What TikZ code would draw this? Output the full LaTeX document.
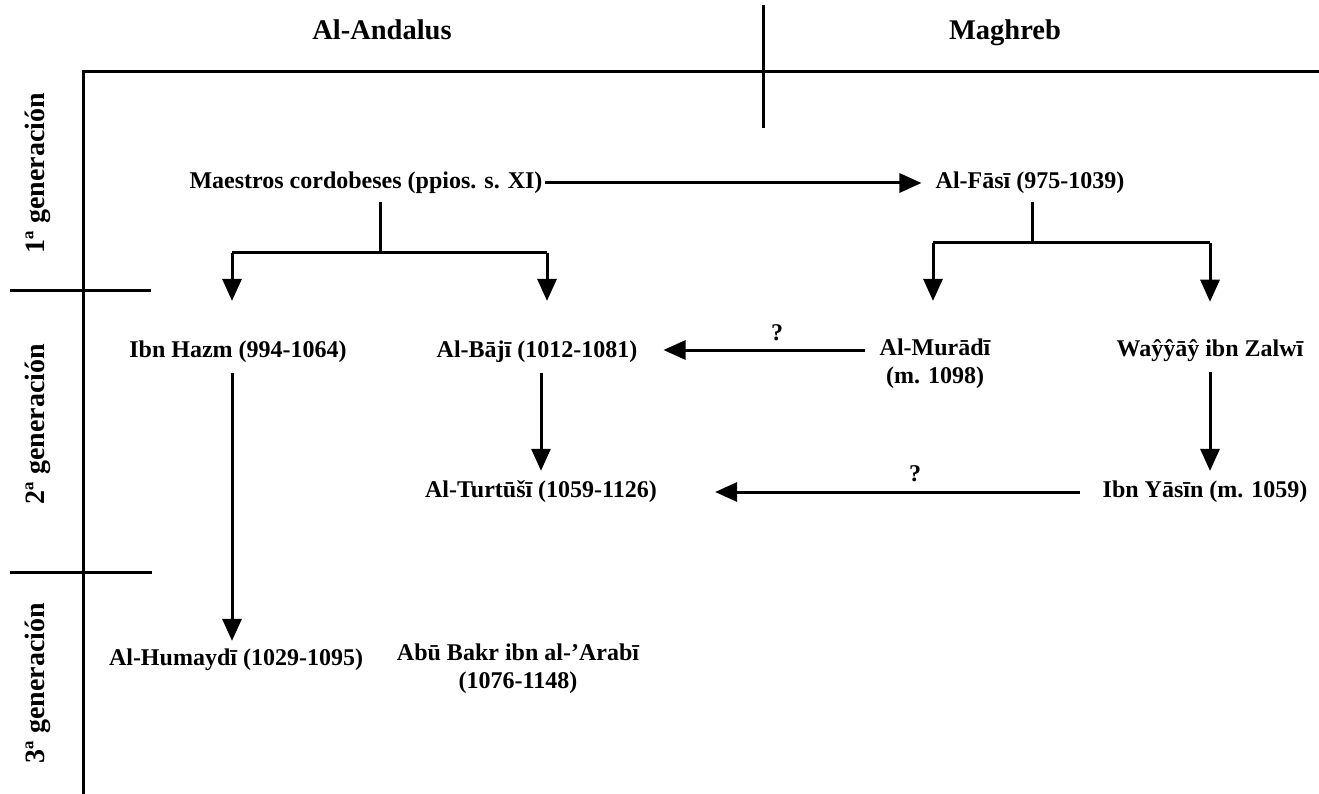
\documentclass[tikz,border=0pt]{standalone}
\usepackage{fontspec}
\setmainfont{Liberation Serif}
\usetikzlibrary{arrows.meta}
\begin{document}
\begin{tikzpicture}[x=1pt,y=-1pt,
  lbl/.style={font=\fontsize{24}{28}\selectfont\bfseries, inner sep=0pt, align=center},
  hdr/.style={font=\fontsize{28.5}{32}\selectfont\bfseries, anchor=base},
  gen/.style={font=\fontsize{28}{32}\selectfont\bfseries, rotate=90},
  ln/.style={line width=3pt},
  arr/.style={line width=3pt, -{Triangle[length=22pt,width=19pt]}},
  qm/.style={font=\fontsize{24}{28}\selectfont\bfseries}]
\useasboundingbox (0,0) rectangle (1319,794);
% frame
\coordinate (tv1) at (763,5);
\coordinate (tv2) at (763,128);
\coordinate (hl1) at (83,72);
\coordinate (hl2) at (1319,72);
\coordinate (vb) at (83,794);
\draw[ln] (tv1) -- (tv2);
\draw[ln] (vb) -- (hl1) -- (hl2);
\coordinate (t1a) at (10,290); \coordinate (t1b) at (151,290);
\coordinate (t2a) at (10,572); \coordinate (t2b) at (152,572);
\draw[ln] (t1a) -- (t1b);
\draw[ln] (t2a) -- (t2b);
\node[hdr] (andalus) at (382,40) {Al-Andalus};
\node[hdr] (maghreb) at (1005,40) {Maghreb};
\node[gen] (g1) at (38,173) {1ª generación};
\node[gen] (g2) at (38,424) {2ª generación};
\node[gen] (g3) at (38,683) {3ª generación};
% nodes
\node[lbl] (maestros) at (366,183) {Maestros cordobeses (ppios. s. XI)};
\node[lbl] (fasi) at (1030,183) {Al-Fāsī (975-1039)};
\node[lbl] (hazm) at (238,352) {Ibn Hazm (994-1064)};
\node[lbl] (baji) at (537,352) {Al-Bājī (1012-1081)};
\node[lbl] (muradi) at (935,364) {Al-Murādī\\(m. 1098)};
\node[lbl] (wayyay) at (1210,351) {Waŷŷāŷ ibn Zalwī};
\node[lbl] (turtushi) at (541,492) {Al-Turtūšī (1059-1126)};
\node[lbl] (yasin) at (1205,492) {Ibn Yāsīn (m. 1059)};
\node[lbl] (humaydi) at (236,660) {Al-Humaydī (1029-1095)};
\node[lbl] (abubakr) at (518,669) {Abū Bakr ibn al-’Arabī\\(1076-1148)};
\node[qm] (q1) at (777,333) {?};
\node[qm] (q2) at (915,474) {?};
% connectors
\draw[arr, shorten <=2pt, shorten >=14pt] (maestros.east) -- (fasi.west);
\coordinate (mj) at (380,253);
\draw[ln, shorten <=8pt] (maestros.south -| mj) -- (mj);
\coordinate (mL) at (232,253);
\coordinate (mR) at (547,253);
\draw[ln] (mL) -- (mR);
\draw[arr, shorten >=40pt] (mL) -- (mL |- hazm.north);
\draw[arr, shorten >=40pt] (mR) -- (mR |- baji.north);
\coordinate (fj) at (1032,243);
\draw[ln, shorten <=8pt] (fasi.south -| fj) -- (fj);
\coordinate (fL) at (933,243);
\coordinate (fR) at (1210,243);
\draw[ln] (fL) -- (fR);
\draw[arr, shorten >=38pt] (fL) -- (fL |- muradi.north);
\draw[arr, shorten >=38pt] (fR) -- (fR |- wayyay.north);
\draw[arr, shorten <=14pt, shorten >=26pt] (muradi.west |- 0,350) -- (baji.east |- 0,350);
\draw[arr, shorten <=10pt, shorten >=10pt] (baji.south -| 541,0) -- (turtushi.north -| 541,0);
\draw[arr, shorten <=10pt, shorten >=10pt] (wayyay.south -| 1210,0) -- (yasin.north -| 1210,0);
\draw[arr, shorten <=22pt, shorten >=58pt] (yasin.west) -- (turtushi.east);
\draw[arr, shorten <=10pt, shorten >=8pt] (hazm.south -| 232,0) -- (humaydi.north -| 232,0);
\end{tikzpicture}
\end{document}
